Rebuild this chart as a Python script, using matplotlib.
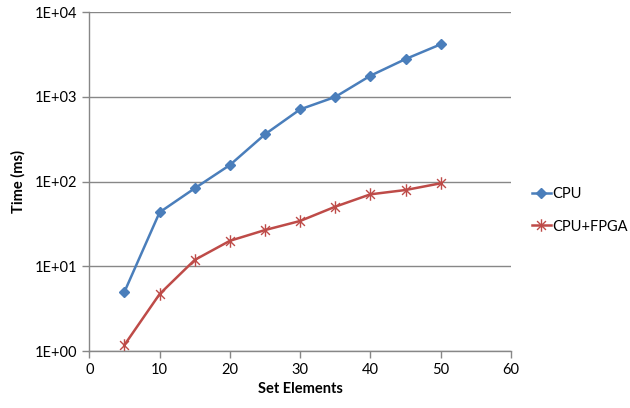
import matplotlib
matplotlib.use("Agg")
import matplotlib.pyplot as plt
from matplotlib.path import Path
import numpy as np

# data
set_elements = [5, 10, 15, 20, 25, 30, 35, 40, 45, 50]
cpu_ms = [5.0, 43.4, 83.4, 157, 362, 713, 1000, 1780, 2800, 4180]
cpu_fpga_ms = [1.18, 4.7, 11.9, 20.0, 26.8, 34.3, 50.6, 70.8, 79.6, 95.5]

y_ticks = [1, 10, 100, 1000, 10000]
y_tick_labels = ["1E+00", "1E+01", "1E+02", "1E+03", "1E+04"]
x_ticks = [0, 10, 20, 30, 40, 50, 60]

plt.rcParams['font.family'] = ['Lato', 'DejaVu Sans']

# Excel-style star marker: an x with a vertical bar through it
d = 0.7071
star = Path(
    [(-d, -d), (d, d), (-d, d), (d, -d), (0, -1), (0, 1)],
    [Path.MOVETO, Path.LINETO, Path.MOVETO, Path.LINETO, Path.MOVETO, Path.LINETO],
)

blue = '#4A7EBB'
red = '#BE4B48'
grey = '#878787'

fig = plt.figure(figsize=(6.3, 4.08), dpi=100)
ax = fig.add_axes([0.1418, 0.1397, 0.811 - 0.1418, 0.970 - 0.1397])

ax.plot(set_elements, cpu_ms, color=blue, lw=1.8, marker='D', markersize=5.5,
        markeredgecolor=blue, label='CPU')
ax.plot(set_elements, cpu_fpga_ms, color=red, lw=1.8, marker=star, markersize=9,
        markeredgewidth=1.0, markerfacecolor='none', markeredgecolor=red, label='CPU+FPGA')

ax.set_yscale('log')
ax.set_ylim(1, 10000)
ax.set_xlim(0, 60)
ax.set_yticks(y_ticks)
ax.set_yticklabels(y_tick_labels)
ax.yaxis.set_minor_locator(matplotlib.ticker.NullLocator())
ax.set_xticks(x_ticks)

ax.grid(axis='y', color=grey, lw=1.0)
ax.set_axisbelow(True)
for side in ['top', 'right']:
    ax.spines[side].set_visible(False)
for side in ['left', 'bottom']:
    ax.spines[side].set_color(grey)
    ax.spines[side].set_linewidth(1.0)
ax.tick_params(colors='black', labelsize=10.5, length=5, color=grey, width=1.0)
ax.tick_params(axis='y', pad=4)

ax.set_xlabel('Set Elements', fontsize=10.5, fontweight='bold', labelpad=4)
ax.set_ylabel('Time (ms)', fontsize=10.5, fontweight='bold', labelpad=6)

fig.legend(loc='center left', bbox_to_anchor=(0.844, 0.485), frameon=False,
           fontsize=10.5, handlelength=1.3, handletextpad=0.1, labelspacing=1.3,
           borderpad=0, borderaxespad=0)

fig.savefig('out.png', dpi=100)
